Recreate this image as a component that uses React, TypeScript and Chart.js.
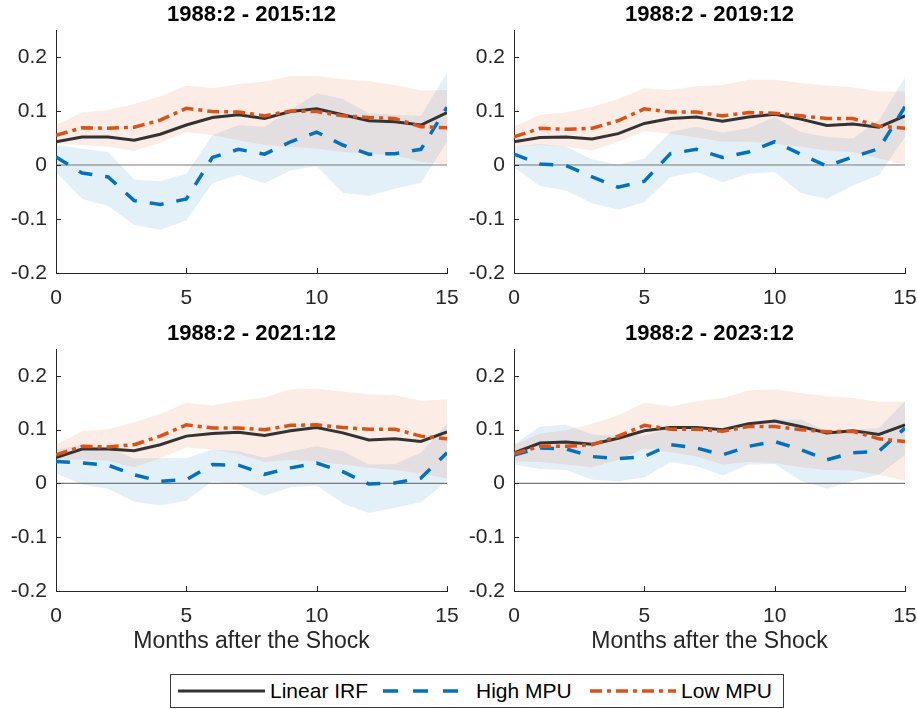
import React, { useEffect, useRef } from 'react';
import { Chart, registerables } from 'chart.js';
Chart.register(...registerables);

const FONT = '"Liberation Sans", Arial, Helvetica, sans-serif';
Chart.defaults.font.family = FONT;

const months = [0, 1, 2, 3, 4, 5, 6, 7, 8, 9, 10, 11, 12, 13, 14, 15];
const xTickValues = [0, 5, 10, 15];
const yTickValues = [-0.2, -0.1, 0, 0.1, 0.2];
const panelTitles = ['1988:2 - 2015:12', '1988:2 - 2019:12', '1988:2 - 2021:12', '1988:2 - 2023:12'];
const seriesNames = ['Linear IRF', 'High MPU', 'Low MPU'];
const xAxisLabel = 'Months after the Shock';

// Panel 1: 1988:2 - 2015:12
const linearA = [0.043, 0.052, 0.052, 0.046, 0.057, 0.074, 0.088, 0.093, 0.086, 0.099, 0.104, 0.093, 0.082, 0.080, 0.074, 0.097];
const highA = [0.015, -0.015, -0.022, -0.066, -0.073, -0.063, 0.014, 0.029, 0.020, 0.043, 0.061, 0.037, 0.020, 0.021, 0.029, 0.107];
const lowA = [0.055, 0.069, 0.068, 0.070, 0.083, 0.105, 0.099, 0.098, 0.091, 0.100, 0.099, 0.091, 0.088, 0.086, 0.071, 0.069];
const highUpA = [0.037, 0.030, 0.024, -0.027, -0.030, -0.016, 0.055, 0.074, 0.071, 0.102, 0.133, 0.122, 0.096, 0.093, 0.091, 0.171];
const highLoA = [-0.013, -0.063, -0.076, -0.111, -0.120, -0.103, -0.034, -0.018, -0.034, -0.010, -0.002, -0.052, -0.057, -0.044, -0.033, 0.043];
const lowUpA = [0.074, 0.097, 0.102, 0.113, 0.127, 0.147, 0.142, 0.150, 0.154, 0.165, 0.165, 0.159, 0.155, 0.148, 0.138, 0.139];
const lowLoA = [0.040, 0.037, 0.034, 0.026, 0.041, 0.061, 0.055, 0.046, 0.037, 0.034, 0.030, 0.024, 0.021, 0.018, 0.006, 0.001];

// Panel 2: 1988:2 - 2019:12
const linearB = [0.043, 0.051, 0.052, 0.048, 0.058, 0.077, 0.086, 0.089, 0.081, 0.089, 0.094, 0.085, 0.073, 0.076, 0.070, 0.091];
const highB = [0.020, 0.002, -0.001, -0.022, -0.041, -0.030, 0.021, 0.029, 0.014, 0.024, 0.043, 0.020, -0.002, 0.015, 0.030, 0.108];
const lowB = [0.052, 0.068, 0.066, 0.068, 0.082, 0.104, 0.098, 0.098, 0.091, 0.097, 0.096, 0.091, 0.086, 0.086, 0.072, 0.068];
const highUpB = [0.034, 0.039, 0.034, 0.010, 0.001, 0.012, 0.061, 0.071, 0.060, 0.068, 0.089, 0.061, 0.052, 0.049, 0.083, 0.163];
const highLoB = [-0.004, -0.039, -0.047, -0.071, -0.083, -0.069, -0.022, -0.013, -0.032, -0.016, -0.013, -0.052, -0.063, -0.038, -0.019, 0.052];
const lowUpB = [0.071, 0.093, 0.097, 0.108, 0.122, 0.142, 0.139, 0.146, 0.148, 0.158, 0.158, 0.152, 0.147, 0.144, 0.136, 0.136];
const lowLoB = [0.034, 0.037, 0.034, 0.027, 0.043, 0.063, 0.058, 0.051, 0.043, 0.043, 0.040, 0.034, 0.027, 0.024, 0.012, 0.001];

// Panel 3: 1988:2 - 2021:12
const linearC = [0.048, 0.064, 0.064, 0.061, 0.072, 0.088, 0.093, 0.095, 0.089, 0.098, 0.104, 0.094, 0.081, 0.083, 0.078, 0.096];
const highC = [0.041, 0.038, 0.034, 0.016, 0.004, 0.007, 0.035, 0.034, 0.017, 0.029, 0.038, 0.022, -0.001, 0.001, 0.010, 0.057];
const lowC = [0.053, 0.069, 0.068, 0.072, 0.088, 0.109, 0.103, 0.103, 0.100, 0.108, 0.109, 0.104, 0.101, 0.101, 0.088, 0.083];
const highUpC = [0.063, 0.072, 0.066, 0.047, 0.047, 0.047, 0.063, 0.060, 0.048, 0.060, 0.069, 0.060, 0.035, 0.036, 0.057, 0.111];
const highLoC = [0.019, -0.002, -0.010, -0.034, -0.041, -0.032, 0.004, -0.002, -0.023, -0.007, -0.004, -0.037, -0.055, -0.045, -0.035, 0.004];
const lowUpC = [0.072, 0.097, 0.101, 0.114, 0.129, 0.150, 0.145, 0.154, 0.160, 0.175, 0.176, 0.171, 0.166, 0.164, 0.154, 0.156];
const lowLoC = [0.044, 0.044, 0.042, 0.030, 0.047, 0.067, 0.063, 0.055, 0.040, 0.044, 0.041, 0.035, 0.029, 0.025, 0.019, 0.009];

// Panel 4: 1988:2 - 2023:12
const linearD = [0.057, 0.075, 0.077, 0.073, 0.084, 0.098, 0.104, 0.104, 0.100, 0.111, 0.116, 0.106, 0.094, 0.098, 0.091, 0.109];
const highD = [0.053, 0.066, 0.064, 0.050, 0.046, 0.050, 0.072, 0.066, 0.053, 0.069, 0.078, 0.063, 0.044, 0.057, 0.060, 0.103];
const lowD = [0.055, 0.069, 0.069, 0.072, 0.088, 0.108, 0.101, 0.101, 0.097, 0.106, 0.106, 0.100, 0.096, 0.097, 0.083, 0.078];
const highUpD = [0.072, 0.106, 0.109, 0.091, 0.088, 0.089, 0.103, 0.104, 0.097, 0.109, 0.119, 0.119, 0.097, 0.100, 0.103, 0.153];
const highLoD = [0.035, 0.027, 0.025, 0.007, 0.004, 0.011, 0.040, 0.032, 0.015, 0.035, 0.036, 0.005, -0.010, 0.005, 0.016, 0.053];
const lowUpD = [0.071, 0.093, 0.099, 0.111, 0.127, 0.150, 0.143, 0.153, 0.159, 0.173, 0.175, 0.168, 0.162, 0.159, 0.152, 0.152];
const lowLoD = [0.041, 0.040, 0.035, 0.030, 0.044, 0.065, 0.058, 0.050, 0.035, 0.040, 0.038, 0.030, 0.025, 0.024, 0.016, 0.005];

const BLACK = '#333333';
const BLUE = '#0072BD';
const ORANGE = '#D95319';
const BLUE_BAND = 'rgba(0,114,189,0.11)';
const ORANGE_BAND = 'rgba(217,83,25,0.11)';
const AXIS = '#262626';
const BLUE_DASH = [14, 13];
const ORANGE_DASH = [12, 5, 4, 5];

type PanelProps = {
  title: string;
  linear: number[];
  high: number[];
  low: number[];
  highUp: number[];
  highLo: number[];
  lowUp: number[];
  lowLo: number[];
  left: number;
  top: number;
  width: number;
  height: number;
  xAxisHeight: number;
  showXLabel: boolean;
};

const pts = (arr: number[]) => arr.map((y, i) => ({ x: months[i], y }));

const inwardTicks = {
  id: 'inwardTicks',
  afterDraw(chart: any) {
    const { ctx, chartArea, scales } = chart;
    ctx.save();
    ctx.strokeStyle = AXIS;
    ctx.lineWidth = 1;
    ctx.beginPath();
    xTickValues.forEach((v) => {
      const px = Math.round(scales.x.getPixelForValue(v)) + 0.5;
      ctx.moveTo(px, chartArea.bottom);
      ctx.lineTo(px, chartArea.bottom - 5);
    });
    yTickValues.forEach((v) => {
      const py = Math.round(scales.y.getPixelForValue(v)) + 0.5;
      ctx.moveTo(chartArea.left, py);
      ctx.lineTo(chartArea.left + 5, py);
    });
    ctx.stroke();
    ctx.restore();
  },
};

function Panel(p: PanelProps) {
  const ref = useRef<HTMLCanvasElement | null>(null);
  useEffect(() => {
    if (!ref.current) return;
    const line = (label: string, data: number[], color: string, width: number, dash: number[], order: number) => ({
      label,
      data: pts(data),
      borderColor: color,
      borderWidth: width,
      borderDash: dash,
      pointRadius: 0,
      fill: false,
      tension: 0,
      order,
    });
    const band = (data: number[], fill: any, color: string) => ({
      label: '',
      data: pts(data),
      borderWidth: 0,
      borderColor: 'rgba(0,0,0,0)',
      backgroundColor: color,
      pointRadius: 0,
      fill,
      tension: 0,
      order: 10,
    });
    const chart = new Chart(ref.current, {
      type: 'line',
      data: {
        datasets: [
          band(p.lowLo, false, ORANGE_BAND),
          band(p.lowUp, '-1', ORANGE_BAND),
          band(p.highLo, false, BLUE_BAND),
          band(p.highUp, '-1', BLUE_BAND),
          line('zero', months.map(() => 0), '#7a7a7a', 1.2, [], 5),
          line(seriesNames[0], p.linear, BLACK, 3, [], 3),
          line(seriesNames[1], p.high, BLUE, 3.5, BLUE_DASH, 2),
          line(seriesNames[2], p.low, ORANGE, 3.5, ORANGE_DASH, 1),
        ] as any,
      },
      options: {
        animation: false,
        responsive: false,
        devicePixelRatio: 1,
        events: [],
        layout: { padding: { left: 0, right: 11, top: 0, bottom: 0 } },
        plugins: {
          legend: { display: false },
          tooltip: { enabled: false },
          title: {
            display: true,
            text: p.title,
            fullSize: false,
            color: '#000',
            font: { size: 22, weight: 'bold', family: FONT },
            padding: { top: 2, bottom: 1.6 },
          },
        },
        scales: {
          x: {
            type: 'linear',
            min: 0,
            max: 15,
            afterBuildTicks: (s: any) => {
              s.ticks = xTickValues.map((v) => ({ value: v }));
            },
            afterFit: (s: any) => {
              s.height = p.xAxisHeight;
              s.paddingLeft = 0;
              s.paddingRight = 0;
            },
            grid: { display: true, drawOnChartArea: false, drawTicks: false },
            border: { display: true, color: AXIS, width: 1 },
            ticks: {
              padding: 13,
              color: AXIS,
              font: { size: 21, family: FONT },
              maxRotation: 0,
              autoSkip: false,
              callback: (v: any) => String(v),
            },
            title: p.showXLabel
              ? {
                  display: true,
                  text: xAxisLabel,
                  color: AXIS,
                  font: { size: 23, family: FONT },
                  padding: { top: 0, bottom: 6 },
                }
              : { display: false },
          },
          y: {
            type: 'linear',
            min: -0.2,
            max: 0.25,
            afterBuildTicks: (s: any) => {
              s.ticks = yTickValues.map((v) => ({ value: v }));
            },
            afterFit: (s: any) => {
              s.width = 56;
              s.paddingTop = 0;
              s.paddingBottom = 0;
            },
            grid: { display: true, drawOnChartArea: false, drawTicks: false },
            border: { display: true, color: AXIS, width: 1 },
            ticks: {
              padding: 9,
              color: AXIS,
              font: { size: 21, family: FONT },
              autoSkip: false,
              callback: (v: any) => String(Math.round(Number(v) * 10) / 10),
            },
          },
        },
      } as any,
      plugins: [inwardTicks],
    });
    return () => chart.destroy();
  }, []);
  return (
    <canvas
      ref={ref}
      width={p.width}
      height={p.height}
      style={{ position: 'absolute', left: p.left, top: p.top, width: p.width, height: p.height }}
    />
  );
}

function Legend() {
  const textStyle: React.CSSProperties = {
    position: 'absolute',
    top: 0,
    height: 32,
    lineHeight: '32px',
    fontSize: 21,
    color: '#000',
    whiteSpace: 'nowrap',
  };
  return (
    <div
      style={{
        position: 'absolute',
        left: 170,
        top: 674,
        width: 612,
        height: 32,
        border: '1px solid #3a3a3a',
        background: '#fff',
        fontFamily: FONT,
      }}
    >
      <svg width={612} height={32} style={{ position: 'absolute', left: 0, top: 0 }}>
        <line x1={7} y1={16} x2={94} y2={16} stroke={BLACK} strokeWidth={3} />
        <line x1={212} y1={16} x2={290} y2={16} stroke={BLUE} strokeWidth={3.5} strokeDasharray="15 15" />
        <line x1={419} y1={16} x2={505} y2={16} stroke={ORANGE} strokeWidth={3.5} strokeDasharray="12 5 4 5" />
      </svg>
      <span style={{ ...textStyle, left: 99 }}>{seriesNames[0]}</span>
      <span style={{ ...textStyle, left: 305 }}>{seriesNames[1]}</span>
      <span style={{ ...textStyle, left: 510 }}>{seriesNames[2]}</span>
    </div>
  );
}

export default function App() {
  const topH = 311;
  const botH = 342;
  return (
    <div style={{ position: 'absolute', left: 0, top: 0, width: 917, height: 709, background: '#fff' }}>
      <Panel title={panelTitles[0]} linear={linearA} high={highA} low={lowA} highUp={highUpA} highLo={highLoA} lowUp={lowUpA} lowLo={lowLoA}
        left={0} top={0} width={458} height={topH} xAxisHeight={38} showXLabel={false} />
      <Panel title={panelTitles[1]} linear={linearB} high={highB} low={lowB} highUp={highUpB} highLo={highLoB} lowUp={lowUpB} lowLo={lowLoB}
        left={458} top={0} width={458} height={topH} xAxisHeight={38} showXLabel={false} />
      <Panel title={panelTitles[2]} linear={linearC} high={highC} low={lowC} highUp={highUpC} highLo={highLoC} lowUp={lowUpC} lowLo={lowLoC}
        left={0} top={319} width={458} height={botH} xAxisHeight={70} showXLabel={true} />
      <Panel title={panelTitles[3]} linear={linearD} high={highD} low={lowD} highUp={highUpD} highLo={highLoD} lowUp={lowUpD} lowLo={lowLoD}
        left={458} top={319} width={458} height={botH} xAxisHeight={70} showXLabel={true} />
      <Legend />
    </div>
  );
}
